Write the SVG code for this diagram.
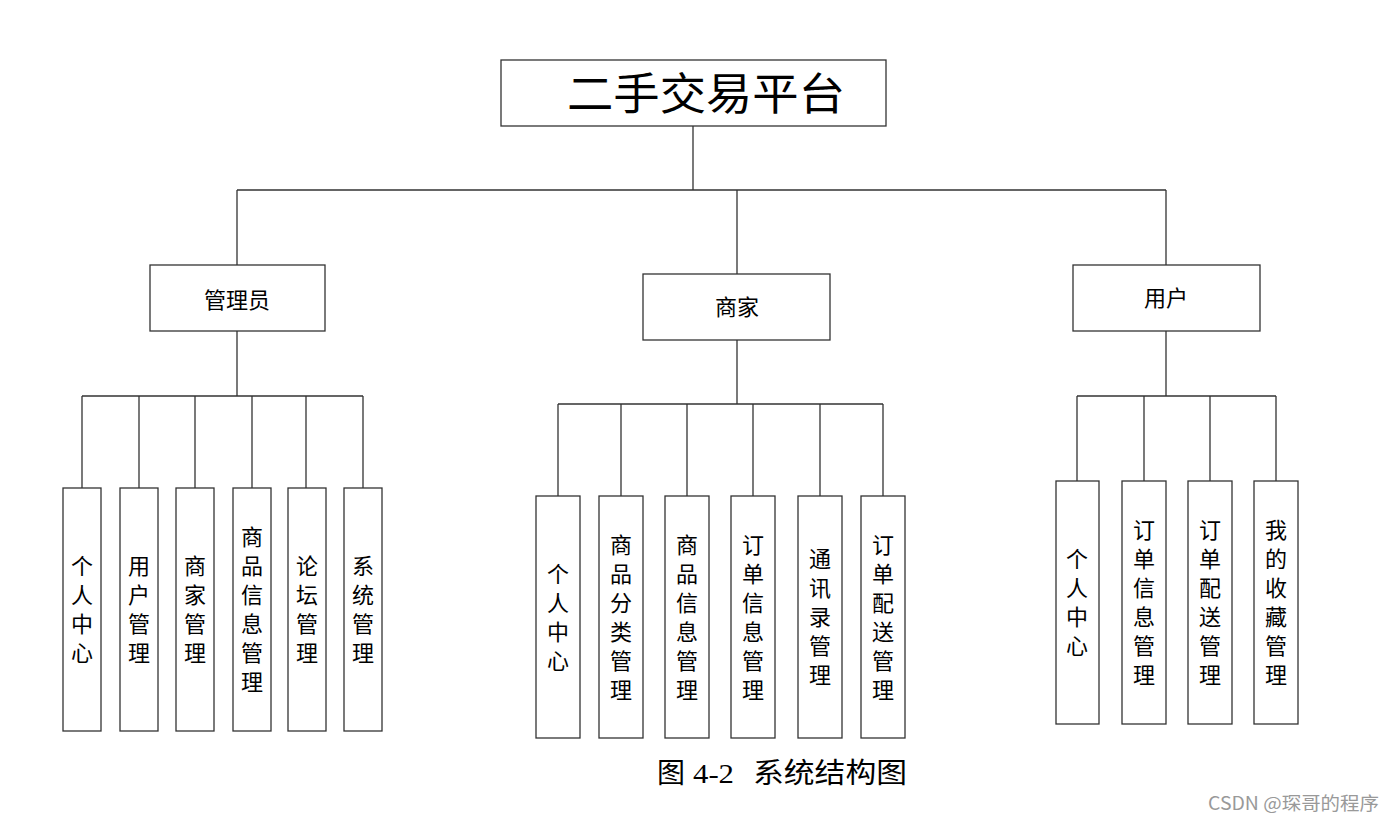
<svg xmlns="http://www.w3.org/2000/svg" width="1395" height="822" viewBox="0 0 1395 822">
<style>
.box{fill:#fff;stroke:#333;stroke-width:1.3}
.ln{fill:none;stroke:#333;stroke-width:1.3}
.sans{font-family:"Noto Sans CJK SC","Noto Sans",sans-serif;fill:#000}
.leaf{font-size:22px;text-anchor:middle}
.mid{font-size:22px;text-anchor:middle}
.serif{font-family:"Liberation Serif","Noto Sans CJK SC",serif;fill:#000}
</style>
<rect width="1395" height="822" fill="#fff"/>
<g id="connectors">
<path class="ln" d="M693 126V190M237 190H1166M237 190V265M737 190V274M1166 190V265"/>
<path class="ln" d="M237 331V396M82 396H363M82 396V488M139 396V488M195 396V488M252 396V488M306 396V488M363 396V488"/>
<path class="ln" d="M737 340V404M558 404H883M558 404V496M621 404V496M687 404V496M753 404V496M820 404V496M883 404V496"/>
<path class="ln" d="M1166 331V396M1077 396H1276M1077 396V481M1144 396V481M1210 396V481M1276 396V481"/>
</g>
<g id="root">
<rect class="box" x="501" y="60" width="385" height="66"/>
<text class="serif" x="567" y="110" font-size="44" textLength="278" lengthAdjust="spacingAndGlyphs">二手交易平台</text>
</g>
<g id="admin">
<rect class="box" x="150" y="265" width="175" height="66"/>
<text class="sans mid" x="237" y="308">管理员</text>
</g>
<g id="merchant">
<rect class="box" x="643" y="274" width="187" height="66"/>
<text class="sans mid" x="737" y="315">商家</text>
</g>
<g id="user">
<rect class="box" x="1073" y="265" width="187" height="66"/>
<text class="sans mid" x="1166" y="306">用户</text>
</g>
<!-- admin leaves: y 488-731, center 609.5 -->
<g id="a1"><rect class="box" x="63" y="488" width="38" height="243"/>
<text class="sans leaf"><tspan x="82" y="574">个</tspan><tspan x="82" dy="29">人</tspan><tspan x="82" dy="29">中</tspan><tspan x="82" dy="29">心</tspan></text></g>
<g id="a2"><rect class="box" x="120" y="488" width="38" height="243"/>
<text class="sans leaf"><tspan x="139" y="574">用</tspan><tspan x="139" dy="29">户</tspan><tspan x="139" dy="29">管</tspan><tspan x="139" dy="29">理</tspan></text></g>
<g id="a3"><rect class="box" x="176" y="488" width="38" height="243"/>
<text class="sans leaf"><tspan x="195" y="574">商</tspan><tspan x="195" dy="29">家</tspan><tspan x="195" dy="29">管</tspan><tspan x="195" dy="29">理</tspan></text></g>
<g id="a4"><rect class="box" x="233" y="488" width="38" height="243"/>
<text class="sans leaf"><tspan x="252" y="545">商</tspan><tspan x="252" dy="29">品</tspan><tspan x="252" dy="29">信</tspan><tspan x="252" dy="29">息</tspan><tspan x="252" dy="29">管</tspan><tspan x="252" dy="29">理</tspan></text></g>
<g id="a5"><rect class="box" x="288" y="488" width="38" height="243"/>
<text class="sans leaf"><tspan x="307" y="574">论</tspan><tspan x="307" dy="29">坛</tspan><tspan x="307" dy="29">管</tspan><tspan x="307" dy="29">理</tspan></text></g>
<g id="a6"><rect class="box" x="344" y="488" width="38" height="243"/>
<text class="sans leaf"><tspan x="363" y="574">系</tspan><tspan x="363" dy="29">统</tspan><tspan x="363" dy="29">管</tspan><tspan x="363" dy="29">理</tspan></text></g>
<!-- merchant leaves: y 496-738, center 617 -->
<g id="m1"><rect class="box" x="536" y="496" width="44" height="242"/>
<text class="sans leaf"><tspan x="558" y="582">个</tspan><tspan x="558" dy="29">人</tspan><tspan x="558" dy="29">中</tspan><tspan x="558" dy="29">心</tspan></text></g>
<g id="m2"><rect class="box" x="599" y="496" width="44" height="242"/>
<text class="sans leaf"><tspan x="621" y="553">商</tspan><tspan x="621" dy="29">品</tspan><tspan x="621" dy="29">分</tspan><tspan x="621" dy="29">类</tspan><tspan x="621" dy="29">管</tspan><tspan x="621" dy="29">理</tspan></text></g>
<g id="m3"><rect class="box" x="665" y="496" width="44" height="242"/>
<text class="sans leaf"><tspan x="687" y="553">商</tspan><tspan x="687" dy="29">品</tspan><tspan x="687" dy="29">信</tspan><tspan x="687" dy="29">息</tspan><tspan x="687" dy="29">管</tspan><tspan x="687" dy="29">理</tspan></text></g>
<g id="m4"><rect class="box" x="731" y="496" width="44" height="242"/>
<text class="sans leaf"><tspan x="753" y="553">订</tspan><tspan x="753" dy="29">单</tspan><tspan x="753" dy="29">信</tspan><tspan x="753" dy="29">息</tspan><tspan x="753" dy="29">管</tspan><tspan x="753" dy="29">理</tspan></text></g>
<g id="m5"><rect class="box" x="798" y="496" width="44" height="242"/>
<text class="sans leaf"><tspan x="820" y="567">通</tspan><tspan x="820" dy="29">讯</tspan><tspan x="820" dy="29">录</tspan><tspan x="820" dy="29">管</tspan><tspan x="820" dy="29">理</tspan></text></g>
<g id="m6"><rect class="box" x="861" y="496" width="44" height="242"/>
<text class="sans leaf"><tspan x="883" y="553">订</tspan><tspan x="883" dy="29">单</tspan><tspan x="883" dy="29">配</tspan><tspan x="883" dy="29">送</tspan><tspan x="883" dy="29">管</tspan><tspan x="883" dy="29">理</tspan></text></g>
<!-- user leaves: y 481-724, center 602.5 -->
<g id="u1"><rect class="box" x="1056" y="481" width="43" height="243"/>
<text class="sans leaf"><tspan x="1077" y="567">个</tspan><tspan x="1077" dy="29">人</tspan><tspan x="1077" dy="29">中</tspan><tspan x="1077" dy="29">心</tspan></text></g>
<g id="u2"><rect class="box" x="1122" y="481" width="44" height="243"/>
<text class="sans leaf"><tspan x="1144" y="538">订</tspan><tspan x="1144" dy="29">单</tspan><tspan x="1144" dy="29">信</tspan><tspan x="1144" dy="29">息</tspan><tspan x="1144" dy="29">管</tspan><tspan x="1144" dy="29">理</tspan></text></g>
<g id="u3"><rect class="box" x="1188" y="481" width="44" height="243"/>
<text class="sans leaf"><tspan x="1210" y="538">订</tspan><tspan x="1210" dy="29">单</tspan><tspan x="1210" dy="29">配</tspan><tspan x="1210" dy="29">送</tspan><tspan x="1210" dy="29">管</tspan><tspan x="1210" dy="29">理</tspan></text></g>
<g id="u4"><rect class="box" x="1254" y="481" width="44" height="243"/>
<text class="sans leaf"><tspan x="1276" y="538">我</tspan><tspan x="1276" dy="29">的</tspan><tspan x="1276" dy="29">收</tspan><tspan x="1276" dy="29">藏</tspan><tspan x="1276" dy="29">管</tspan><tspan x="1276" dy="29">理</tspan></text></g>
<g id="caption">
<text class="serif" x="657" y="783" font-size="28">图</text>
<text class="serif" x="693" y="783" font-size="28" textLength="41" lengthAdjust="spacingAndGlyphs">4-2</text>
<text class="serif" x="753" y="783" font-size="28" textLength="154" lengthAdjust="spacingAndGlyphs">系统结构图</text>
</g>
<text x="1208" y="810" font-family="'Noto Sans CJK SC','Noto Sans',sans-serif" font-size="18" fill="#999" textLength="171" lengthAdjust="spacingAndGlyphs">CSDN @琛哥的程序</text>
</svg>
